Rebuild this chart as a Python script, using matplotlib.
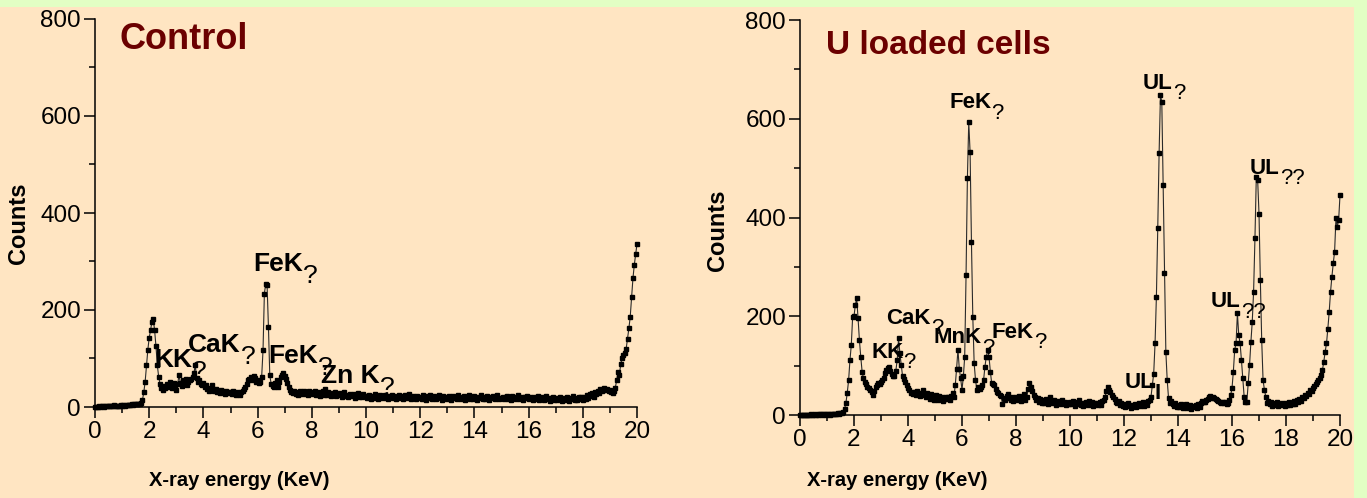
import numpy as np
import matplotlib.pyplot as plt
from matplotlib.ticker import MultipleLocator
from matplotlib.patches import Rectangle

plt.rcParams.update({'font.family': 'Liberation Sans', 'font.size': 16})

# energy grid (keV), one channel every 0.05 keV
energy = np.round(np.arange(0, 20.001, 0.05), 2)

# control cells, counts per channel (one row = 1 keV)
control_counts = [
    0, 1, 1, 2, 1, 2, 2, 1, 2, 2, 3, 2, 2, 3, 4, 3, 2, 3, 3, 4,
    3, 4, 3, 4, 5, 4, 5, 6, 5, 6, 6, 7, 6, 7, 8, 14, 30, 52, 86, 118,
    143, 158, 176, 181, 158, 125, 86, 62, 48, 40, 35, 44, 40, 48, 42, 52, 46, 40, 50, 44,
    36, 48, 65, 50, 44, 55, 48, 58, 46, 52, 55, 58, 62, 70, 86, 60, 52, 56, 48, 45,
    50, 42, 46, 38, 34, 40, 45, 36, 32, 38, 30, 34, 28, 36, 32, 30, 26, 33, 28, 31,
    30, 27, 33, 29, 25, 31, 28, 24, 30, 34, 38, 42, 48, 55, 58, 62, 56, 64, 60, 52,
    55, 50, 52, 62, 117, 234, 254, 251, 165, 65, 48, 44, 41, 50, 56, 42, 52, 62, 66, 70,
    64, 58, 50, 41, 36, 31, 28, 33, 26, 30, 24, 32, 28, 26, 34, 30, 27, 25, 32, 28,
    30, 26, 33, 24, 28, 31, 22, 27, 34, 25, 38, 24, 30, 26, 22, 28, 25, 30, 23, 27,
    24, 28, 21, 26, 30, 23, 25, 20, 27, 24, 22, 26, 19, 25, 28, 21, 24, 20, 26, 22,
    22, 18, 25, 20, 17, 23, 19, 26, 21, 16, 24, 20, 18, 22, 25, 19, 17, 23, 20, 24,
    19, 23, 17, 21, 25, 18, 22, 16, 20, 24, 18, 21, 26, 17, 19, 23, 20, 16, 22, 18,
    21, 17, 24, 19, 15, 22, 18, 25, 20, 16, 23, 19, 17, 21, 24, 18, 15, 22, 19, 20,
    17, 22, 19, 15, 23, 18, 21, 16, 24, 20, 17, 19, 22, 15, 21, 18, 24, 17, 20, 16,
    22, 18, 15, 21, 19, 24, 17, 20, 16, 23, 19, 15, 21, 18, 22, 17, 20, 25, 16, 19,
    18, 21, 16, 20, 23, 17, 19, 15, 22, 18, 20, 16, 24, 19, 17, 21, 15, 20, 18, 22,
    16, 20, 18, 14, 21, 17, 19, 23, 15, 18, 20, 14, 17, 22, 16, 19, 13, 18, 21, 15,
    19, 14, 17, 21, 16, 12, 18, 15, 20, 17, 13, 19, 16, 22, 15, 18, 14, 20, 17, 21,
    14, 20, 17, 24, 19, 26, 22, 28, 21, 30, 27, 34, 29, 38, 33, 36, 40, 35, 38, 34,
    36, 30, 29, 32, 40, 55, 72, 66, 89, 100, 107, 112, 120, 141, 162, 186, 227, 265, 293, 315,
    336,
]

# uranium loaded cells
uranium_counts = [
    0, 1, 0, 1, 1, 0, 1, 1, 2, 1, 1, 2, 1, 1, 2, 2, 1, 2, 2, 1,
    2, 2, 1, 2, 3, 2, 3, 3, 4, 3, 4, 5, 7, 12, 24, 45, 70, 111, 142, 199,
    200, 223, 236, 196, 152, 118, 88, 74, 67, 62, 57, 54, 51, 46, 40, 48, 57, 60, 64, 62,
    67, 70, 74, 85, 91, 95, 98, 90, 84, 80, 78, 90, 111, 155, 125, 101, 78, 72, 67, 60,
    54, 50, 44, 47, 42, 46, 40, 48, 43, 38, 45, 50, 41, 36, 44, 39, 33, 42, 37, 31,
    35, 40, 30, 38, 34, 36, 29, 33, 37, 32, 36, 31, 38, 44, 37, 60, 94, 132, 94, 74,
    51, 78, 118, 283, 480, 593, 532, 350, 199, 105, 71, 51, 57, 52, 57, 60, 71, 98, 118, 132,
    118, 88, 64, 62, 61, 52, 47, 44, 40, 38, 22, 35, 30, 38, 42, 34, 31, 37, 28, 33,
    36, 30, 39, 33, 28, 35, 42, 31, 37, 52, 64, 57, 48, 40, 36, 30, 34, 27, 32, 25,
    30, 24, 33, 28, 22, 36, 27, 24, 31, 26, 20, 28, 25, 22, 30, 24, 27, 21, 25, 23,
    26, 22, 28, 24, 19, 27, 23, 30, 21, 25, 18, 24, 27, 20, 29, 23, 26, 19, 25, 22,
    24, 21, 26, 20, 28, 30, 37, 48, 56, 50, 47, 40, 37, 32, 27, 24, 28, 21, 25, 18,
    22, 16, 20, 24, 18, 14, 21, 19, 23, 17, 20, 25, 18, 22, 26, 19, 24, 21, 28, 30,
    37, 60, 84, 145, 240, 378, 530, 648, 634, 466, 287, 128, 71, 34, 25, 28, 22, 19, 24, 17,
    20, 16, 22, 18, 14, 19, 23, 15, 17, 21, 13, 18, 16, 20, 14, 22, 17, 24, 28, 26,
    27, 30, 33, 36, 38, 35, 37, 34, 32, 30, 28, 27, 24, 27, 25, 26, 22, 25, 30, 40,
    54, 88, 132, 145, 206, 162, 145, 111, 74, 37, 27, 27, 64, 101, 148, 189, 250, 358, 482, 476,
    408, 273, 152, 71, 51, 37, 24, 28, 22, 26, 19, 24, 21, 27, 18, 23, 20, 25, 22, 19,
    24, 21, 26, 20, 25, 23, 28, 22, 30, 27, 32, 29, 37, 34, 41, 38, 45, 42, 50, 48,
    54, 58, 62, 66, 70, 75, 82, 91, 108, 128, 145, 175, 209, 250, 280, 307, 331, 398, 381, 395,
    445,
]

# peak names (element line, greek suffix shown as "?")
control_peaks = ["KK", "CaK", "FeK", "FeK", "Zn K"]
control_suffix = ["?", "?", "?", "?", "?"]
uranium_peaks = ["KK", "CaK", "MnK", "FeK", "FeK", "UL", "UL", "UL", "UL"]
uranium_suffix = ["?", "?", "?", "?", "?", "I", "?", "??", "??"]

# label anchor positions (energy, counts)
control_pos = [(2.18, 97), (3.43, 128), (5.83, 295), (6.38, 105), (8.34, 64)]
uranium_pos = [(2.63, 127), (3.19, 196), (4.96, 156), (7.11, 168), (5.52, 632),
               (12.04, 65), (12.7, 672), (15.22, 229), (16.67, 500)]

W, H = 1367, 498
fig = plt.figure(figsize=(W / 100, H / 100), dpi=100, facecolor='#e2ffc4')
fig.patches.append(Rectangle((0, 0), 1354 / W, (H - 7) / H, transform=fig.transFigure,
                             facecolor='#ffe5c2', edgecolor='none', zorder=-5))


def make_axes(x0, x1, y0, y1):
    ax = fig.add_axes([x0 / W, 1 - y0 / H, (x1 - x0) / W, (y0 - y1) / H])
    ax.set_facecolor('none')
    for s in ['top', 'right']:
        ax.spines[s].set_visible(False)
    for s in ['left', 'bottom']:
        ax.spines[s].set_linewidth(1.1)
    ax.set_xlim(0, 20)
    ax.set_ylim(0, 800)
    ax.xaxis.set_major_locator(MultipleLocator(2))
    ax.xaxis.set_minor_locator(MultipleLocator(1))
    ax.yaxis.set_major_locator(MultipleLocator(200))
    ax.yaxis.set_minor_locator(MultipleLocator(100))
    ax.tick_params(which='major', direction='out', length=8, width=1.1, labelsize=17.5, pad=2)
    ax.tick_params(which='minor', direction='out', length=4.5, width=1.1)
    return ax


def peak_label(ax, x, y, name, suffix, size):
    t = ax.text(x, y, name, fontsize=size, fontweight='bold', ha='left', va='center')
    ax.annotate(suffix, xy=(1, 0.5), xycoords=t, ha='left', va='top',
                fontsize=size * 1.0, fontweight='bold' if suffix == 'I' else 'normal')


ax1 = make_axes(95, 637, 407, 19)
ax2 = make_axes(800, 1340, 415, 20)

for ax, counts in [(ax1, control_counts), (ax2, uranium_counts)]:
    ax.plot(energy, counts, color='#2a2a2a', lw=0.8, marker='s', markersize=2.6,
            markerfacecolor='black', markeredgecolor='black', clip_on=False)

for name, suf, (x, y) in zip(control_peaks, control_suffix, control_pos):
    peak_label(ax1, x, y, name, suf, 19)
for name, suf, (x, y) in zip(uranium_peaks, uranium_suffix, uranium_pos):
    peak_label(ax2, x, y, name, suf, 16)

ax1.text(0.92, 757, "Control", fontsize=26, fontweight='bold', color='#6b0000', va='center')
ax2.text(0.96, 749, "U loaded cells", fontsize=24, fontweight='bold', color='#6b0000', va='center')

ax1.text(-0.142, 0.474, "Counts", transform=ax1.transAxes, rotation=90, fontsize=17,
         fontweight='bold', ha='center', va='center')
ax2.text(-0.152, 0.468, "Counts", transform=ax2.transAxes, rotation=90, fontsize=17,
         fontweight='bold', ha='center', va='center')
ax1.text(0.266, -0.19, "X-ray energy (KeV)", transform=ax1.transAxes, fontsize=14.5,
         fontweight='bold', ha='center', va='center')
ax2.text(0.18, -0.167, "X-ray energy (KeV)", transform=ax2.transAxes, fontsize=14.5,
         fontweight='bold', ha='center', va='center')

fig.savefig('out.png', dpi=100, facecolor=fig.get_facecolor())
